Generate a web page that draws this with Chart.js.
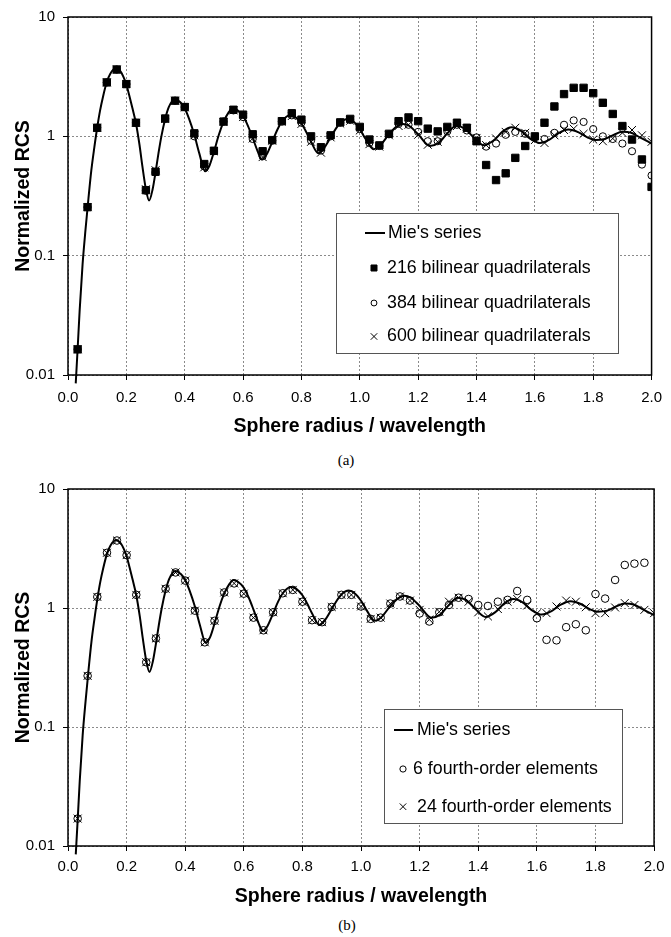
<!DOCTYPE html>
<html>
<head>
<meta charset="utf-8">
<script src="https://cdn.jsdelivr.net/npm/chart.js@4.4.1/dist/chart.umd.min.js"></script>
<style>
  body { margin: 0; background: #fff; }
  #page { position: relative; width: 671px; height: 937px; }
  canvas { position: absolute; left: 0; }
  .cap { position: absolute; font: 15px "Liberation Serif", "Times New Roman", serif; transform: translate(-50%, -50%); }
</style>
</head>
<body>
<div id="page">
  <canvas id="chartA" width="671" height="445" style="top:0"></canvas>
  <div class="cap" style="left:346px;top:460px">(a)</div>
  <canvas id="chartB" width="671" height="444" style="top:472px"></canvas>
  <div class="cap" style="left:347px;top:925px">(b)</div>
</div>
<script>
// sphere radius / wavelength of the computed points
const radius = [0.033,0.067,0.100,0.133,0.167,0.200,0.233,0.267,0.300,0.333,
  0.367,0.400,0.433,0.467,0.500,0.533,0.567,0.600,0.633,0.667,
  0.700,0.733,0.767,0.800,0.833,0.867,0.900,0.933,0.967,1.000,
  1.033,1.067,1.100,1.133,1.167,1.200,1.233,1.267,1.300,1.333,
  1.367,1.400,1.433,1.467,1.500,1.533,1.567,1.600,1.633,1.667,
  1.700,1.733,1.767,1.800,1.833,1.867,1.900,1.933,1.967,2.000];

// (a) bilinear quadrilaterals
const quad216 = [0.0164,0.255,1.18,2.83,3.63,2.74,1.30,0.354,0.505,1.41,
  1.99,1.76,1.06,0.586,0.757,1.33,1.67,1.52,1.04,0.75,
  0.93,1.34,1.56,1.38,1.00,0.81,1.02,1.31,1.40,1.20,
  0.94,0.84,1.05,1.34,1.44,1.34,1.16,1.10,1.20,1.30,
  1.18,0.91,0.575,0.43,0.49,0.66,0.83,1.00,1.30,1.78,
  2.26,2.55,2.55,2.30,1.91,1.54,1.22,0.94,0.64,0.377];
const quad384 = [0.0164,0.255,1.18,2.83,3.63,2.74,1.30,0.35,0.50,1.40,
  1.99,1.76,1.00,0.56,0.75,1.33,1.65,1.45,0.95,0.68,
  0.92,1.33,1.50,1.30,0.92,0.76,1.00,1.30,1.37,1.15,
  0.88,0.83,1.04,1.27,1.25,1.09,0.91,0.91,1.10,1.25,
  1.12,0.98,0.82,0.87,1.03,1.09,1.05,0.98,0.95,1.07,
  1.25,1.36,1.32,1.15,1.00,0.95,0.87,0.75,0.58,0.47];
const quad600 = [0.0164,0.255,1.18,2.83,3.63,2.74,1.30,0.36,0.52,1.40,
  1.99,1.75,1.02,0.55,0.75,1.32,1.65,1.45,0.96,0.67,
  0.92,1.33,1.48,1.27,0.90,0.73,0.98,1.28,1.35,1.12,
  0.86,0.82,1.02,1.22,1.25,1.03,0.85,0.90,1.05,1.22,
  1.16,0.97,0.845,0.96,1.09,1.18,1.07,0.93,0.88,1.02,
  1.13,1.16,1.05,0.94,0.91,0.96,1.07,1.13,1.02,0.90];

// (b) fourth-order elements
const fourth6 = [0.017,0.269,1.24,2.91,3.69,2.78,1.29,0.35,0.555,1.45,
  1.99,1.70,0.95,0.515,0.78,1.35,1.61,1.32,0.83,0.65,
  0.92,1.33,1.42,1.13,0.79,0.76,1.02,1.29,1.29,1.03,
  0.81,0.83,1.09,1.25,1.155,0.90,0.77,0.92,1.06,1.22,
  1.19,1.06,1.04,1.13,1.17,1.39,1.17,0.82,0.54,0.535,
  0.69,0.73,0.65,1.31,1.20,1.72,2.30,2.36,2.40,null];
const fourth24 = [0.017,0.269,1.24,2.91,3.69,2.78,1.29,0.35,0.555,1.45,
  1.99,1.70,0.95,0.515,0.78,1.35,1.61,1.32,0.83,0.65,
  0.92,1.33,1.42,1.13,0.79,0.76,1.02,1.29,1.29,1.03,
  0.81,0.83,1.09,1.25,1.155,0.965,0.80,0.93,1.13,1.22,
  1.13,0.92,0.85,0.98,1.13,1.19,1.05,0.90,0.905,1.03,
  1.155,1.13,1.015,0.905,0.905,1.01,1.10,1.06,0.965,0.905];

// Mie's series
const mieX = [0.0265,0.033,0.04,0.05,0.06,0.07,0.08,0.09,0.1,0.11,
  0.12,0.133,0.145,0.165,0.18,0.19,0.2,0.21,0.22,0.233,
  0.245,0.255,0.267,0.278,0.29,0.3,0.31,0.32,0.333,0.345,
  0.366,0.385,0.4,0.415,0.433,0.45,0.47,0.485,0.5,0.517,
  0.533,0.55,0.565,0.58,0.6,0.617,0.633,0.65,0.664,0.68,
  0.7,0.717,0.733,0.76,0.78,0.8,0.817,0.833,0.858,0.875,
  0.9,0.917,0.933,0.958,0.98,1.0,1.02,1.047,1.07,1.1,
  1.125,1.148,1.17,1.2,1.24,1.27,1.3,1.33,1.36,1.39,
  1.425,1.46,1.49,1.52,1.55,1.58,1.617,1.65,1.68,1.715,
  1.75,1.78,1.808,1.84,1.87,1.9,1.93,1.96,2.0];
const mieY = [0.0085,0.0165,0.035,0.085,0.165,0.30,0.52,0.80,1.18,1.65,
  2.15,2.85,3.35,3.72,3.50,3.15,2.72,2.20,1.75,1.28,
  0.85,0.56,0.36,0.29,0.36,0.50,0.72,1.00,1.40,1.75,
  2.05,1.93,1.72,1.40,1.03,0.72,0.51,0.57,0.74,1.03,
  1.32,1.58,1.72,1.66,1.48,1.22,0.97,0.75,0.64,0.70,
  0.90,1.13,1.33,1.50,1.44,1.28,1.08,0.90,0.72,0.78,
  0.98,1.15,1.30,1.40,1.32,1.15,0.95,0.78,0.84,1.04,
  1.20,1.27,1.22,1.04,0.83,0.88,1.06,1.22,1.16,0.98,
  0.84,0.93,1.10,1.19,1.12,0.97,0.88,0.94,1.06,1.14,
  1.08,0.98,0.93,0.95,1.03,1.09,1.07,0.98,0.87];

const xTicks = [0,0.2,0.4,0.6,0.8,1.0,1.2,1.4,1.6,1.8,2.0];
const xTickLabels = ['0.0','0.2','0.4','0.6','0.8','1.0','1.2','1.4','1.6','1.8','2.0'];
const yTicks = [0.01,0.1,1,10];
const yTickLabels = ['0.01','0.1','1','10'];

const FONT = '"Liberation Sans", Arial, Helvetica, sans-serif';
Chart.defaults.font.family = FONT;
Chart.defaults.color = '#000';

function pts(ys) { return radius.map((x, i) => ({ x: x, y: ys[i] })); }

const squareStyle = { pointStyle: 'rect', pointRadius: 5.2, backgroundColor: '#000', borderColor: '#000', borderWidth: 1 };
const circleStyle = { pointStyle: 'circle', pointRadius: 3.6, backgroundColor: 'rgba(0,0,0,0)', borderColor: '#000', borderWidth: 1 };
const crossStyle = { pointStyle: 'crossRot', pointRadius: 5.6, backgroundColor: 'rgba(0,0,0,0)', borderColor: '#000', borderWidth: 1 };

function mieSet() {
  return {
    label: "Mie's series",
    data: mieX.map((x, i) => ({ x: x, y: mieY[i] })),
    showLine: true, pointRadius: 0, borderColor: '#000', borderWidth: 2,
    cubicInterpolationMode: 'monotone',
    clip: { left: 0, top: 0, right: 0, bottom: 9 }
  };
}

function markerSet(label, ys, style) {
  return Object.assign({ label: label, data: pts(ys), showLine: false, pointHoverRadius: 0 }, style);
}

function drawGlyph(ctx, style, x, y, k) {
  const r = style.pointRadius * k;
  ctx.lineWidth = style.borderWidth;
  ctx.strokeStyle = '#000';
  ctx.fillStyle = style.backgroundColor;
  ctx.beginPath();
  if (style.pointStyle === 'rect') {
    const s = r * Math.SQRT1_2;
    ctx.rect(x - s, y - s, 2 * s, 2 * s);
    ctx.fill(); ctx.stroke();
  } else if (style.pointStyle === 'circle') {
    ctx.arc(x, y, r, 0, Math.PI * 2);
    ctx.stroke();
  } else {
    const s = r * Math.SQRT1_2;
    ctx.moveTo(x - s, y - s); ctx.lineTo(x + s, y + s);
    ctx.moveTo(x - s, y + s); ctx.lineTo(x + s, y - s);
    ctx.stroke();
  }
}

// plot frame and the boxed legend inside the plot
const frameLegend = {
  id: 'frameLegend',
  afterDraw(chart, args, opts) {
    const ctx = chart.ctx;
    const a = chart.chartArea;
    ctx.save();
    ctx.strokeStyle = '#000';
    ctx.lineWidth = 1.5;
    ctx.strokeRect(a.left, a.top, a.right - a.left, a.bottom - a.top);

    const b = opts.box;
    ctx.fillStyle = '#fff';
    ctx.fillRect(b[0], b[1], b[2] - b[0], b[3] - b[1]);
    ctx.strokeStyle = '#555';
    ctx.lineWidth = 1;
    ctx.strokeRect(b[0] + 0.5, b[1] + 0.5, b[2] - b[0], b[3] - b[1]);

    opts.items.forEach(it => {
      const ds = chart.data.datasets[it.ds];
      if (ds.showLine) {
        ctx.strokeStyle = '#000';
        ctx.lineWidth = ds.borderWidth;
        ctx.beginPath();
        ctx.moveTo(it.x0, it.y); ctx.lineTo(it.x1, it.y);
        ctx.stroke();
      } else {
        drawGlyph(ctx, ds, it.sx, it.y, 0.82);
      }
      ctx.fillStyle = '#000';
      ctx.font = '17.8px ' + FONT;
      ctx.textBaseline = 'middle';
      ctx.textAlign = 'left';
      ctx.fillText(ds.label, it.tx, it.y);
    });
    ctx.restore();
  }
};

function scales(tickPad, titlePad) {
  const grid = { color: '#8a8a8a', lineWidth: 1, tickLength: 5, tickColor: '#000', tickWidth: 1, tickBorderDash: [] };
  return {
    x: {
      type: 'linear', min: 0, max: 2,
      afterBuildTicks: s => { s.ticks = xTicks.map(v => ({ value: v })); },
      afterFit: s => { s.height = 70; },
      ticks: { callback: (v, i) => xTickLabels[i], font: { size: 15 }, color: '#000', padding: tickPad, maxRotation: 0, autoSkip: false },
      grid: grid,
      border: { display: false, dash: [2, 2] },
      title: { display: true, text: 'Sphere radius / wavelength', color: '#000',
        font: { size: 19.5, weight: 'bold' }, padding: { top: 0, bottom: titlePad } }
    },
    y: {
      type: 'logarithmic', min: 0.01, max: 10,
      afterBuildTicks: s => { s.ticks = yTicks.map(v => ({ value: v })); },
      afterFit: s => { s.width = 68; },
      ticks: { callback: (v, i) => yTickLabels[i], font: { size: 15 }, color: '#000', padding: 8, autoSkip: false },
      grid: grid,
      border: { display: false, dash: [2, 2] },
      title: { display: true, text: 'Normalized RCS', color: '#000',
        font: { size: 19.5, weight: 'bold' }, padding: { top: 12, bottom: 0 } }
    }
  };
}

new Chart(document.getElementById('chartA'), {
  type: 'scatter',
  data: {
    datasets: [
      markerSet('600 bilinear quadrilaterals', quad600, crossStyle),
      markerSet('384 bilinear quadrilaterals', quad384, circleStyle),
      markerSet('216 bilinear quadrilaterals', quad216, squareStyle),
      mieSet()
    ]
  },
  options: {
    responsive: false, animation: false, events: [],
    layout: { padding: { top: 15, right: 11, left: 0, bottom: 0 } },
    scales: scales(9, 6.3),
    plugins: {
      legend: { display: false }, tooltip: { enabled: false },
      frameLegend: {
        box: [336, 213, 618, 353],
        items: [
          { ds: 3, y: 233, x0: 365, x1: 385, tx: 388 },
          { ds: 2, y: 268, sx: 374, tx: 387 },
          { ds: 1, y: 303, sx: 374, tx: 387 },
          { ds: 0, y: 336.5, sx: 374, tx: 387 }
        ]
      }
    }
  },
  plugins: [frameLegend]
});

new Chart(document.getElementById('chartB'), {
  type: 'scatter',
  data: {
    datasets: [
      markerSet('24 fourth-order elements', fourth24, crossStyle),
      markerSet('6 fourth-order elements', fourth6, Object.assign({}, circleStyle, { pointRadius: 3.8 })),
      mieSet()
    ]
  },
  options: {
    responsive: false, animation: false, events: [],
    layout: { padding: { top: 15, right: 11, left: 0, bottom: 0 } },
    scales: scales(6.5, 7.6),
    plugins: {
      legend: { display: false }, tooltip: { enabled: false },
      frameLegend: {
        box: [384, 237, 622, 351],
        items: [
          { ds: 2, y: 258, x0: 394, x1: 413, tx: 417 },
          { ds: 1, y: 297, sx: 403, tx: 413 },
          { ds: 0, y: 334.7, sx: 403, tx: 417 }
        ]
      }
    }
  },
  plugins: [frameLegend]
});
</script>
</body>
</html>
